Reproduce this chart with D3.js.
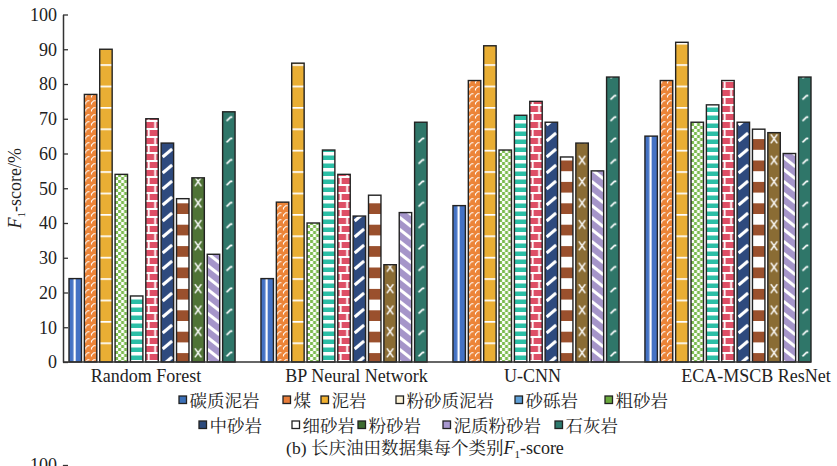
<!DOCTYPE html>
<html>
<head>
<meta charset="utf-8">
<script src="https://cdn.jsdelivr.net/npm/d3@7"></script>
<style>
  html, body { margin: 0; padding: 0; background: #fff; }
  svg { display: block; }
</style>
</head>
<body>
<svg id="chart" width="837" height="466"></svg>
<script>
// Models (x-axis groups) and lithology classes (one bar each)
const models = ["Random Forest", "BP Neural Network", "U-CNN", "ECA-MSCB ResNet"];
const classes = ["碳质泥岩", "煤", "泥岩", "粉砂质泥岩", "砂砾岩", "粗砂岩",
                 "中砂岩", "细砂岩", "粉砂岩", "泥质粉砂岩", "石灰岩"];

// Per-class F1-score (%) for each model
const randomForestF1 = [24, 77, 90, 54, 19, 70, 63, 47, 53, 31, 72];
const bpNetworkF1    = [24, 46, 86, 40, 61, 54, 42, 48, 28, 43, 69];
const uCnnF1         = [45, 81, 91, 61, 71, 75, 69, 59, 63, 55, 82];
const ecaResNetF1    = [65, 81, 92, 69, 74, 81, 69, 67, 66, 60, 82];

const scoreTicks = [0, 10, 20, 30, 40, 50, 60, 70, 80, 90, 100];
const titleText = "(b) 长庆油田数据集每个类别";

const scoresByModel = [randomForestF1, bpNetworkF1, uCnnF1, ecaResNetF1];

// ---- layout ----
const W = 837, H = 466;
const plotLeft = 63, plotTop = 14.5, plotBottom = 362;
const serif = "'Liberation Serif', 'Times New Roman', 'Noto Serif CJK SC', 'Noto Sans CJK SC', serif";
const cjk = "'Noto Serif CJK SC', 'Noto Sans CJK SC', sans-serif";

const svg = d3.select("#chart").attr("font-family", serif);

const y = d3.scaleLinear().domain([0, 100]).range([plotBottom, plotTop]);
const x0 = d3.scaleBand().domain(models).range([69, 811]).paddingInner(0.135).paddingOuter(0);
const x1 = d3.scaleBand().domain(classes).range([0, x0.bandwidth()]).paddingInner(0.19).paddingOuter(0);

// ---- fill styles: each class has a colour and a repeating motif ----
const styles = [
  { bg: "#4472c4", tile: 10,   draw: (p, w, h) => p.append("rect").attr("x", w * 0.36).attr("width", 2.2).attr("height", h).attr("fill", "#fff") },
  { bg: "#ec8438", tile: 7,    draw: (p, w, h) => {
      [1.2, 7.2].forEach(cx => p.append("path")
        .attr("d", `M${cx},${h - 0.5} l0,-1.6 l2.2,-2.2 l1.8,0`)
        .attr("fill", "none").attr("stroke", "#fff").attr("stroke-width", 1.1));
  }},
  { bg: "#e9ae34", tile: 21.4, draw: (p, w, h) => p.append("rect").attr("y", 0).attr("width", w).attr("height", 1.7).attr("fill", "#fff") },
  { bg: "#7cbb4f", tile: 6,    draw: (p, w, h) => {
      for (let i = 0; i * 3 < w; i++)
        p.append("rect").attr("x", i * 3).attr("y", (i % 2) * 3).attr("width", 3).attr("height", 3).attr("fill", "#fff");
  }},
  { bg: "#2cbfa6", tile: 8,    draw: (p, w, h) => p.append("rect").attr("width", w).attr("height", 3.5).attr("fill", "#fff") },
  { bg: "#de4f66", tile: 16,   draw: (p, w, h) => {
      p.append("rect").attr("width", w).attr("height", 2).attr("fill", "#fff");
      p.append("rect").attr("y", 8).attr("width", w).attr("height", 2).attr("fill", "#fff");
      p.append("rect").attr("x", 2).attr("width", 1.8).attr("height", 8).attr("fill", "#fff");
      p.append("rect").attr("x", w - 4).attr("y", 8).attr("width", 1.8).attr("height", 8).attr("fill", "#fff");
  }},
  { bg: "#2e4a7e", tile: 16,   draw: (p, w, h) => {
      [-h, 0, h].forEach(o => p.append("line")
        .attr("x1", 1.5).attr("y1", 13 + o).attr("x2", w - 1.5).attr("y2", 5 + o)
        .attr("stroke", "#fff").attr("stroke-width", 3));
  }},
  { bg: "#ffffff", tile: 21.4, draw: (p, w, h) => p.append("rect").attr("y", h / 2).attr("width", w).attr("height", h / 2).attr("fill", "#9a502d") },
  { bg: "#8a6c34", tile: 21.4, draw: (p, w, h) => {
      p.append("path").attr("d", `M3,6 L${w - 3},15 M${w - 3},6 L3,15`)
        .attr("stroke", "#fff").attr("stroke-width", 1.5).attr("fill", "none");
  }},
  { bg: "#a595c9", tile: 12,   draw: (p, w, h) => {
      [-h, 0, h].forEach(o => p.append("line")
        .attr("x1", 0).attr("y1", 1 + o).attr("x2", w).attr("y2", 11 + o)
        .attr("stroke", "#fff").attr("stroke-width", 3));
  }},
  { bg: "#2f7669", tile: 21.4, draw: (p, w, h) => {
      p.append("path").attr("d", `M4,14 L8,10 l1.8,0`)
        .attr("stroke", "#fff").attr("stroke-width", 1.7).attr("fill", "none");
  }}
];
// Random Forest's 粉砂岩 bar is drawn in a darker green
function barColour(gi, si) {
  if (si === 8 && gi === 0) return "#4f7336";
  return styles[si].bg;
}

const defs = svg.append("defs");

// ---- bars ----
const barData = [];
scoresByModel.forEach((vals, gi) => {
  vals.forEach((v, si) => barData.push({ gi, si, model: models[gi], cls: classes[si], value: v }));
});

barData.forEach(d => {
  const bx = x0(d.model) + x1(d.cls);
  const w = x1.bandwidth();
  const st = styles[d.si];
  const p = defs.append("pattern")
    .attr("id", `fill-${d.gi}-${d.si}`)
    .attr("patternUnits", "userSpaceOnUse")
    .attr("x", bx).attr("y", 0)
    .attr("width", w).attr("height", st.tile);
  p.append("rect").attr("width", w).attr("height", st.tile).attr("fill", barColour(d.gi, d.si));
  st.draw(p, w, st.tile);
});

svg.append("g").selectAll("rect.bar")
  .data(barData)
  .join("rect")
  .attr("class", "bar")
  .attr("x", d => x0(d.model) + x1(d.cls))
  .attr("width", x1.bandwidth())
  .attr("y", d => y(d.value))
  .attr("height", d => y(0) - y(d.value))
  .attr("fill", d => `url(#fill-${d.gi}-${d.si})`)
  .attr("stroke", "#222")
  .attr("stroke-width", 1.4);

// ---- axes ----
const axisColour = "#333";
const yAxis = svg.append("g")
  .attr("transform", `translate(${plotLeft},0)`)
  .call(d3.axisLeft(y).tickValues(scoreTicks).tickSize(-5).tickSizeOuter(0).tickPadding(6));
yAxis.selectAll("text").attr("font-size", 18).attr("fill", "#222").attr("font-family", serif);
yAxis.selectAll("line").attr("stroke", axisColour).attr("stroke-width", 1.3);
yAxis.select(".domain").attr("stroke", axisColour).attr("stroke-width", 1.5);

// baseline running from the y axis to the last bar
svg.append("line")
  .attr("x1", plotLeft).attr("x2", x0.range()[1])
  .attr("y1", y(0)).attr("y2", y(0))
  .attr("stroke", axisColour).attr("stroke-width", 1.5);

// model labels under each group
const labelShift = [-6, 12.5, -3.5, 28];
const xAxis = svg.append("g")
  .attr("transform", `translate(0,${plotBottom})`)
  .call(d3.axisBottom(x0).tickSize(0).tickPadding(7));
xAxis.select(".domain").remove();
xAxis.selectAll("text")
  .attr("font-size", 18).attr("fill", "#222").attr("font-family", serif)
  .attr("dx", (d, i) => labelShift[i]);

// y-axis title: F1-score/%
const yTitle = svg.append("text")
  .attr("transform", `translate(21,${(plotTop + plotBottom) / 2}) rotate(-90)`)
  .attr("text-anchor", "middle")
  .attr("font-size", 18).attr("fill", "#222");
yTitle.append("tspan").attr("font-style", "italic").text("F");
yTitle.append("tspan").attr("font-size", 11).attr("dy", 4).text("1");
yTitle.append("tspan").attr("dy", -4).text("-score/%");

// ---- legend ----
const legendSwatch = ["#3b6fb6", "#e87d3a", "#f0b030", "#fdf3d6", "#5fa0d8", "#6aaa3c",
                      "#2c4a7c", "#ffffff", "#3f6b30", "#a898d0", "#2d7a6e"];
const legendX = [179, 283, 321, 396, 515, 605, 199, 292, 358, 443, 555];
const legendRow = [0, 0, 0, 0, 0, 0, 1, 1, 1, 1, 1];
const rowY = [400, 425];

const legend = svg.append("g").selectAll("g")
  .data(classes)
  .join("g")
  .attr("transform", (d, i) => `translate(${legendX[i]},${rowY[legendRow[i]]})`);
legend.append("rect")
  .attr("x", 0).attr("y", -4).attr("width", 7.5).attr("height", 7.5)
  .attr("fill", (d, i) => legendSwatch[i])
  .attr("stroke", "#222").attr("stroke-width", 1.3);
legend.append("text")
  .attr("x", 10.5).attr("y", 6.5)
  .attr("font-size", 17.5)
  .attr("font-family", cjk)
  .attr("fill", "#222")
  .text(d => d);

// ---- panel caption ----
const caption = svg.append("text")
  .attr("x", 425).attr("y", 454)
  .attr("text-anchor", "middle")
  .attr("font-size", 17.5).attr("fill", "#222");
caption.append("tspan").text(titleText);
caption.append("tspan").attr("font-style", "italic").attr("font-size", 18).text("F");
caption.append("tspan").attr("font-size", 11).attr("dy", 4).text("1");
caption.append("tspan").attr("font-size", 18).attr("dy", -4).text("-score");

// ---- top of the next panel's score axis, continuing below ----
const yNext = d3.scaleLinear().domain([0, 100]).range([465 + (plotBottom - plotTop), 465]);
const nextAxis = svg.append("g")
  .attr("transform", `translate(${plotLeft},0)`)
  .call(d3.axisLeft(yNext).tickValues([100]).tickSize(-5).tickSizeOuter(0).tickPadding(6));
nextAxis.selectAll("text").attr("font-size", 18).attr("fill", "#222").attr("font-family", serif);
nextAxis.selectAll("line").attr("stroke", axisColour).attr("stroke-width", 1.3);
nextAxis.select(".domain").attr("stroke", axisColour).attr("stroke-width", 1.5);
</script>
</body>
</html>
